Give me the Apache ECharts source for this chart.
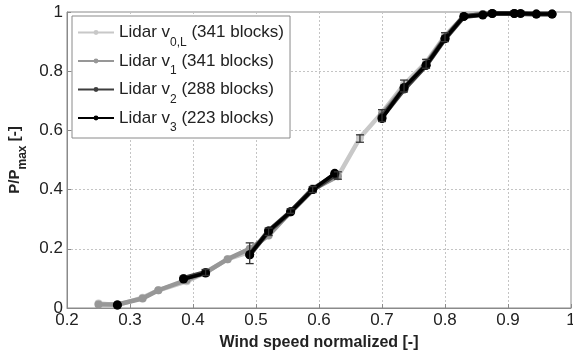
<!DOCTYPE html>
<html><head><meta charset="utf-8">
<script src="https://cdn.jsdelivr.net/npm/echarts@6/dist/echarts.min.js"></script>
<style>html,body{margin:0;padding:0;background:#fff}#c{width:573px;height:351px}</style>
</head><body><div id="c"></div>
<script>
// Data (null = gap in series)
const xV0L = [0.25,0.28,0.32,0.345,0.39,0.42,0.455,0.49,0.52,0.555,0.59,0.63,0.665,0.70,0.735,0.77,0.80,0.83,0.86,0.875,0.91,0.945,0.97];
const yV0L = [0.015,0.01,0.035,0.06,0.09,0.12,0.165,0.19,0.25,0.325,0.405,0.445,0.575,0.66,0.755,0.83,0.92,0.985,0.993,0.995,0.995,0.993,0.993];
const xV1 = [0.25,0.28,0.32,0.345,0.39,0.42,0.455,0.49,0.52,0.555,0.59,0.63,0.665,0.70,0.735,0.77,0.80,0.83,0.86,0.91,0.97];
const yV1 = [0.012,0.012,0.032,0.06,0.095,0.12,0.165,0.2,0.245,0.325,0.40,0.445,null,0.655,0.745,0.825,0.915,0.985,0.993,0.995,0.993];
const xV2 = [0.28,0.33,0.385,0.42,0.455,0.49,0.52,0.555,0.59,0.625,0.665,0.70,0.735,0.77,0.80,0.83,0.875,0.91,0.945,0.97];
const yV2 = [0.01,null,0.1,0.12,null,0.18,0.26,0.325,0.40,0.45,null,0.645,0.74,0.82,0.91,0.985,0.995,0.995,0.993,0.993];
const xV3 = [0.28,0.33,0.385,0.42,0.455,0.49,0.52,0.555,0.59,0.625,0.665,0.70,0.735,0.77,0.80,0.83,0.86,0.875,0.91,0.92,0.945,0.97];
const yV3 = [0.01,null,0.098,0.118,null,0.18,0.26,0.325,0.40,0.455,null,0.64,0.745,0.82,0.91,0.985,0.99,0.995,0.995,0.995,0.993,0.993];
// error bars [x, low, high]
const errX  = [0.42,0.49,0.52,0.555,0.59,0.63,0.665,0.70,0.735,0.77,0.80];
const errLo = [0.11,0.15,0.245,0.32,0.39,0.435,0.56,0.63,0.73,0.81,0.90];
const errHi = [0.13,0.22,0.27,0.335,0.41,0.46,0.585,0.67,0.77,0.84,0.93];
const names = ['v0L','v1','v2','v3'];
const subs = {v0L:'0,L', v1:'1', v2:'2', v3:'3'};
const blocks = {v0L:'341', v1:'341', v2:'288', v3:'223'};
const xTicks = [0.2,0.3,0.4,0.5,0.6,0.7,0.8,0.9,1];
const yTicks = [0,0.2,0.4,0.6,0.8,1];

function pairs(xs, ys){ return xs.map((x,i)=>[x, ys[i]===null?'-':ys[i]]); }
const colors = {v0L:'#c8c8c8', v1:'#979797', v2:'#3e3e3e', v3:'#000000'};
const widths = {v0L:4.5, v1:4.5, v2:5, v3:3.5};
const sizes = {v0L:8, v1:8, v2:9, v3:9};
const dataMap = {v0L:pairs(xV0L,yV0L), v1:pairs(xV1,yV1), v2:pairs(xV2,yV2), v3:pairs(xV3,yV3)};

const F = 'Arial, "Liberation Sans", Helvetica, sans-serif';
const series = names.map(n=>({
  name:n, type:'line', data:dataMap[n], connectNulls:false,
  symbol:'circle', symbolSize: sizes[n], showSymbol:true,
  lineStyle:{color:colors[n], width:widths[n]}, itemStyle:{color:colors[n]},
  animation:false, z: 2+names.indexOf(n)
}));
series.push({
  type:'custom', name:'err', animation:false, z:10,
  data: errX.map((x,i)=>[x, errLo[i], errHi[i]]),
  renderItem:function(params, api){
    const lo = api.coord([api.value(0), api.value(1)]);
    const hi = api.coord([api.value(0), api.value(2)]);
    const w = 4;
    const st = {stroke:'#333', lineWidth:1.3};
    return {type:'group', children:[
      {type:'line', shape:{x1:lo[0],y1:lo[1],x2:hi[0],y2:hi[1]}, style:st},
      {type:'line', shape:{x1:lo[0]-w,y1:lo[1],x2:lo[0]+w,y2:lo[1]}, style:st},
      {type:'line', shape:{x1:hi[0]-w,y1:hi[1],x2:hi[0]+w,y2:hi[1]}, style:st}
    ]};
  }
});

const chart = echarts.init(document.getElementById('c'));
chart.setOption({
  backgroundColor:'#fff', animation:false,
  grid:{left:67, right:2, top:12, bottom:43, containLabel:false, outerBoundsMode:'none',
    show:true, borderColor:'#8a8a8a', borderWidth:1, backgroundColor:'transparent'},
  xAxis:{type:'value', min:0.2, max:1, interval:0.1,
    axisLine:{show:true, lineStyle:{color:'#8a8a8a'}},
    axisTick:{show:true, inside:true, length:4, lineStyle:{color:'#8a8a8a'}},
    splitLine:{show:true, lineStyle:{color:'#c4c4c4', type:[2,2], width:1}},
    axisLabel:{color:'#222', fontSize:17, fontFamily:F, margin:4, formatter:v=>{
      const t = xTicks.find(t=>Math.abs(t-v)<1e-9); return t===undefined?'':String(t);}},
    name:'Wind speed normalized [-]', nameLocation:'middle', nameGap:27,
    nameTextStyle:{fontSize:16, fontWeight:'bold', fontFamily:F, color:'#222'}
  },
  yAxis:{type:'value', min:0, max:1, interval:0.2,
    axisLine:{show:true, lineStyle:{color:'#8a8a8a'}},
    axisTick:{show:true, inside:true, length:4, lineStyle:{color:'#8a8a8a'}},
    splitLine:{show:true, lineStyle:{color:'#c4c4c4', type:[2,2], width:1}},
    axisLabel:{color:'#222', fontSize:17, fontFamily:F, margin:4, formatter:v=>{
      const t = yTicks.find(t=>Math.abs(t-v)<1e-9); return t===undefined?'':String(t);}},
    name:'{n|P/P}{s|max}{n| [-]}', nameLocation:'middle', nameGap:38, nameRotate:90,
    nameTextStyle:{rich:{
      n:{fontSize:15, fontWeight:'bold', fontFamily:F, color:'#222'},
      s:{fontSize:12, fontWeight:'bold', fontFamily:F, color:'#222', verticalAlign:'bottom', lineHeight:28}
    }}
  },
  legend:{
    orient:'vertical', left:72, top:16, data:names,
    backgroundColor:'#fff', borderColor:'#8a8a8a', borderWidth:1,
    padding:[8,6,4,5], itemGap:4, itemWidth:36, itemHeight:6,
    textStyle:{rich:{
      n:{fontSize:17, fontFamily:F, color:'#222', lineHeight:25},
      s:{fontSize:12, fontFamily:F, color:'#222', verticalAlign:'bottom', lineHeight:32}
    }},
    formatter:n=>'{n|Lidar v}{s|'+subs[n]+'}{n| ('+blocks[n]+' blocks)}'
  },
  series:series
});
</script></body></html>
